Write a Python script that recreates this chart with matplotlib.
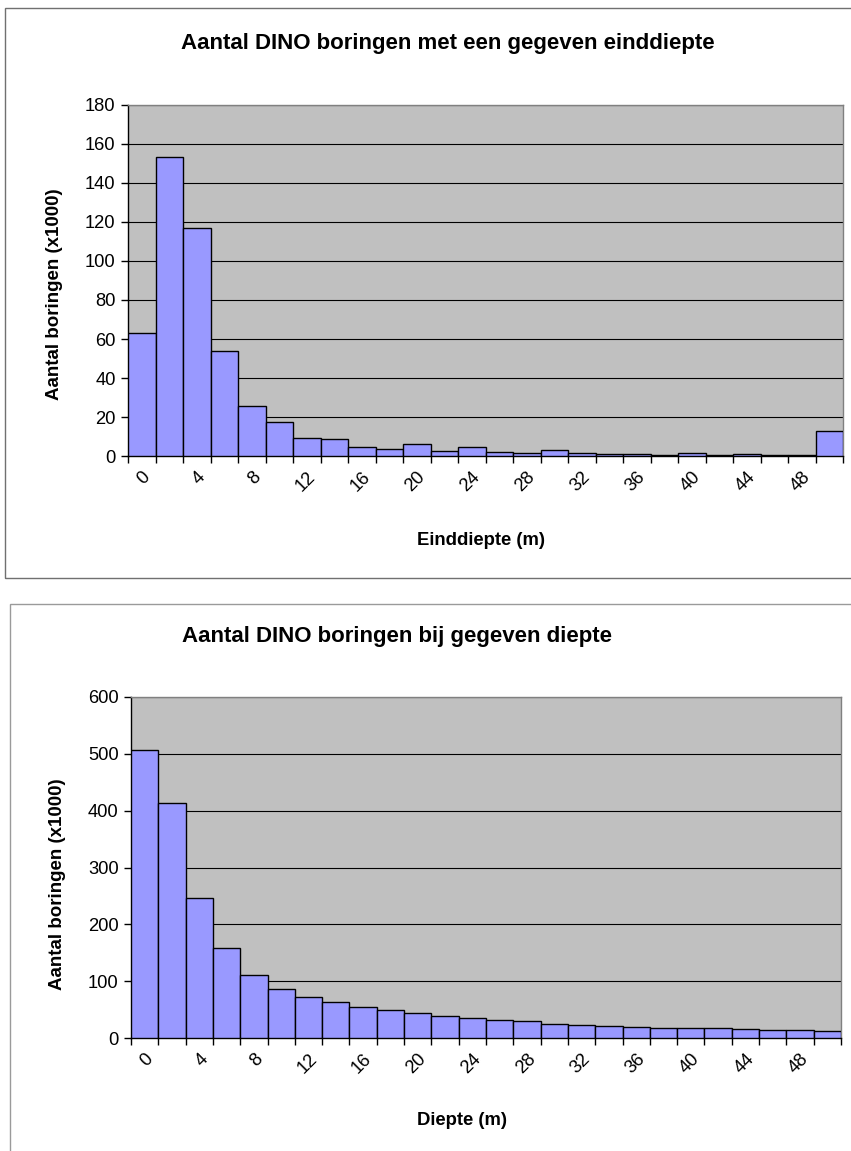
import matplotlib
matplotlib.use("Agg")
import matplotlib.pyplot as plt
from matplotlib.patches import Rectangle
from matplotlib.ticker import FixedLocator, NullFormatter, FixedFormatter

# ---------------- data ----------------
depth_categories = [0, 2, 4, 6, 8, 10, 12, 14, 16, 18, 20, 22, 24,
                    26, 28, 30, 32, 34, 36, 38, 40, 42, 44, 46, 48, 50]
end_depth_counts = [63, 153, 117, 54, 25.6, 17.7, 9.5, 8.7, 4.9, 3.7, 6.5, 2.9, 4.6,
                    2.4, 1.9, 3.2, 1.5, 1.0, 1.0, 0.6, 1.5, 0.6, 1.0, 0.6, 0.6, 12.8]
depth_counts = [506, 414, 246, 158, 110.6, 86.6, 73.1, 63.8, 54.4, 49.7, 43.9, 39.2, 36,
                31.6, 29.8, 25.1, 23.4, 22.2, 20.5, 18.7, 17.5, 17.5, 15.8, 14.0, 14.0, 12.9]
top_yticks = [0, 20, 40, 60, 80, 100, 120, 140, 160, 180]
bottom_yticks = [0, 100, 200, 300, 400, 500, 600]

title_top = "Aantal DINO boringen met een gegeven einddiepte"
title_bottom = "Aantal DINO boringen bij gegeven diepte"
xlabel_top = "Einddiepte (m)"
xlabel_bottom = "Diepte (m)"
ylabel = "Aantal boringen (x1000)"

# ---------------- figure ----------------
W, H = 851, 1151
DPI = 100
plt.rcParams['font.family'] = ['Liberation Sans', 'DejaVu Sans']
fig = plt.figure(figsize=(W / DPI, H / DPI), dpi=DPI)
fig.patch.set_facecolor('white')

def px_axes(left, top, right, bottom):
    return fig.add_axes([left / W, 1 - bottom / H, (right - left) / W, (bottom - top) / H])

# chart frames
fig.patches.append(Rectangle((4.5 / W, 1 - 577.5 / H), 900 / W, (577.5 - 8) / H,
                             transform=fig.transFigure, fill=False,
                             edgecolor='#707070', linewidth=1.0))
fig.patches.append(Rectangle((9.5 / W, 1 - 1200 / H), 900 / W, (1200 - 603.5) / H,
                             transform=fig.transFigure, fill=False,
                             edgecolor='#9a9a9a', linewidth=1.0))

BAR = '#9999FF'
BG = '#C0C0C0'
TICKFS = 13.2

def draw(ax, values, yticks, xlabel, ylab_xy, xlab_xy):
    n = len(depth_categories)
    idx = list(range(n))
    ax.set_facecolor(BG)
    ax.set_axisbelow(True)
    ax.yaxis.grid(True, color='black', linewidth=0.8)
    ax.bar(idx, values, width=1.0, color=BAR, edgecolor='black', linewidth=1.0, zorder=3)
    ax.set_xlim(-0.5, n - 0.5)
    ax.set_ylim(yticks[0], yticks[-1])
    ax.set_yticks(yticks)
    ax.set_yticklabels([str(t) for t in yticks], fontsize=TICKFS)
    ax.tick_params(axis='y', direction='out', length=5, width=1, pad=4, colors='black')
    # category boundaries as major ticks, labels on every second category
    ax.xaxis.set_major_locator(FixedLocator([i - 0.5 for i in range(n + 1)]))
    ax.xaxis.set_major_formatter(NullFormatter())
    lab_pos = [i for i in idx if i % 2 == 0 and i < n - 1]
    ax.xaxis.set_minor_locator(FixedLocator(lab_pos))
    ax.xaxis.set_minor_formatter(FixedFormatter([str(depth_categories[i]) for i in lab_pos]))
    ax.tick_params(axis='x', which='major', direction='out', length=5, width=1, color='black')
    ax.tick_params(axis='x', which='minor', length=0, pad=9, labelsize=TICKFS)
    for lbl in ax.get_xticklabels(minor=True):
        lbl.set_rotation(45)
        lbl.set_ha('right')
        lbl.set_va('top')
        lbl.set_rotation_mode('anchor')
    for s in ('left', 'bottom'):
        ax.spines[s].set_color('black')
        ax.spines[s].set_linewidth(1.0)
    for s in ('top', 'right'):
        ax.spines[s].set_color('#808080')
        ax.spines[s].set_linewidth(1.0)
    ax.set_ylabel(ylabel, fontsize=13.5, fontweight='bold', va='center', ha='center')
    ax.yaxis.set_label_coords(*ylab_xy)
    ax.set_xlabel(xlabel, fontsize=13.3, fontweight='bold', va='center', ha='center')
    ax.xaxis.set_label_coords(*xlab_xy)

ax1 = px_axes(128, 104.5, 843, 456.3)
draw(ax1, end_depth_counts, top_yticks, xlabel_top,
     ((55 - 128) / 715, (456.3 - 294) / 351.8),
     ((481 - 128) / 715, (456.3 - 540.7) / 351.8))

ax2 = px_axes(131, 696.7, 841, 1038.3)
draw(ax2, depth_counts, bottom_yticks, xlabel_bottom,
     ((58 - 131) / 710, (1038.3 - 884) / 341.6),
     ((462 - 131) / 710, (1038.3 - 1120.7) / 341.6))

fig.text(448 / W, 1 - 43 / H, title_top, fontsize=16, fontweight='bold',
         ha='center', va='center')
fig.text(397 / W, 1 - 637 / H, title_bottom, fontsize=16, fontweight='bold',
         ha='center', va='center')

fig.savefig('out.png', dpi=DPI, facecolor='white')
